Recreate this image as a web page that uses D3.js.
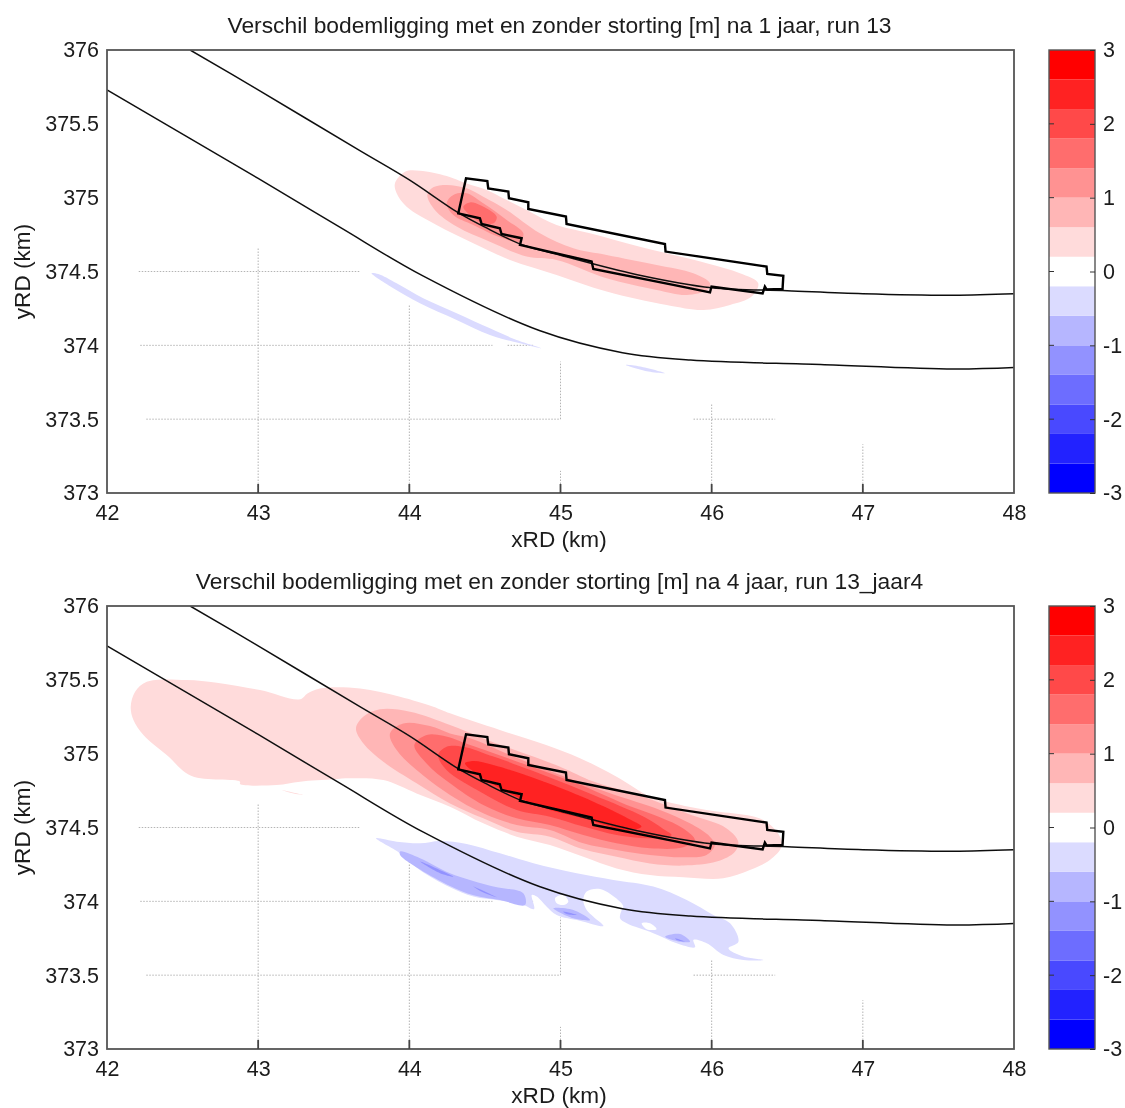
<!DOCTYPE html>
<html><head><meta charset="utf-8">
<script src="https://cdn.jsdelivr.net/npm/d3@7/dist/d3.min.js"></script>
<style>html,body{margin:0;padding:0;background:#fff}svg{display:block}text{font-family:"Liberation Sans",Arial,sans-serif;fill:#1a1a1a}</style>
</head><body><svg id="c" width="1125" height="1108"></svg>
<script>
const titles = ["Verschil bodemligging met en zonder storting [m] na 1 jaar, run 13",
                "Verschil bodemligging met en zonder storting [m] na 4 jaar, run 13_jaar4"];
const xTicks = [42,43,44,45,46,47,48];
const yTicks = [373,373.5,374,374.5,375,375.5,376];
const yTickLabels = ["373","373.5","374","374.5","375","375.5","376"];
const barTicks = [-3,-2,-1,0,1,2,3];
const bandColors = ["#0000ff","#2424ff","#4949ff","#6d6dff","#9292ff","#b6b6ff","#dbdbff","#ffffff","#ffdbdb","#ffb6b6","#ff9292","#ff6d6d","#ff4949","#ff2424","#ff0000"];

const coastUpper = [[42.55,376],[43,375.73],[43.67,375.32],[44,375.12],[44.32,374.9],[44.5,374.8],[44.75,374.68],[45,374.61],[45.5,374.48],[46,374.39],[46.5,374.37],[47,374.35],[47.6,374.34],[48,374.35]];
const coastLower = [[42,375.73],[43,375.13],[43.54,374.8],[44.09,374.47],[44.86,374.1],[45.41,373.95],[45.86,373.9],[46.72,373.87],[47.6,373.84],[48,373.85]];
const dumpSite = [[44.324,374.894],[44.375,375.131],[44.516,375.113],[44.522,375.063],[44.655,375.041],[44.659,374.996],[44.787,374.969],[44.787,374.923],[45.036,374.872],[45.04,374.822],[45.691,374.686],[45.695,374.635],[46.363,374.533],[46.368,374.483],[46.474,374.47],[46.469,374.382],[46.363,374.379],[46.352,374.398],[46.337,374.352],[45.999,374.398],[45.989,374.359],[45.746,374.409],[45.217,374.517],[45.206,374.567],[44.732,374.68],[44.743,374.725],[44.61,374.754],[44.599,374.793],[44.478,374.822],[44.467,374.86]];

// grid remnants: [x0,x1,y] horizontal, [x,y0,y1] vertical
const gridH = [[42.21,43.67,374.5],[42.22,44.55,374],[44.65,44.82,374],[42.26,45,373.5],[45.88,46.42,373.5]];
const gridV = [[43,373,374.66],[44,373,374.28],[45,373.5,373.89],[45,373,373.15],[46,373,373.6],[47,373,373.33]];
const tickMarks = [43,44,45,46,47];

const run1Contours = [
 {v:0.4,p:[[43.905,375.097],[43.971,375.176],[44.07,375.183],[44.247,375.147],[44.375,375.097],[44.511,375.052],[44.644,374.984],[44.798,374.905],[44.974,374.815],[45.195,374.759],[45.525,374.668],[45.967,374.556],[46.187,374.488],[46.308,374.42],[46.264,374.33],[46.121,374.273],[45.945,374.239],[45.702,374.273],[45.305,374.364],[44.974,374.477],[44.666,374.578],[44.423,374.691],[44.18,374.815],[43.982,374.939],[43.916,375.03]]},
 {v:0.8,p:[[44.119,375.018],[44.158,375.07],[44.247,375.086],[44.379,375.063],[44.489,375.007],[44.644,374.917],[44.864,374.759],[45.085,374.657],[45.305,374.612],[45.636,374.544],[45.878,374.488],[45.989,374.42],[45.967,374.375],[45.834,374.341],[45.636,374.375],[45.305,374.454],[44.974,374.578],[44.776,374.601],[44.533,374.701],[44.313,374.804],[44.169,374.917]]},
 {v:1.2,p:[[44.247,374.962],[44.291,375.018],[44.379,375.03],[44.489,374.962],[44.644,374.849],[44.754,374.759],[44.732,374.702],[44.599,374.732],[44.423,374.815],[44.291,374.883]]},
 {v:1.6,p:[[44.357,374.939],[44.401,374.968],[44.467,374.95],[44.578,374.871],[44.556,374.826],[44.467,374.837],[44.401,374.882]]},
 {v:-0.4,p:[[43.75,374.488],[43.795,374.483],[43.916,374.42],[44.092,374.319],[44.313,374.217],[44.533,374.115],[44.71,374.036],[44.875,373.98],[44.732,374.014],[44.533,374.07],[44.313,374.172],[44.07,374.285],[43.894,374.386]]},
 {v:-0.4,p:[[45.433,373.867],[45.526,373.856],[45.691,373.811],[45.581,373.822]]}
];
const run13Contours = [
 {v:0.4,p:[[42.157,375.318],[42.186,375.42],[42.263,375.487],[42.527,375.499],[42.726,375.481],[43.012,375.431],[43.277,375.368],[43.326,375.408],[43.409,375.442],[43.674,375.442],[43.938,375.386],[44.159,375.318],[44.269,375.273],[44.599,375.16],[44.9,375.06],[45.129,374.969],[45.371,374.844],[45.592,374.709],[45.702,374.675],[45.966,374.618],[46.341,374.551],[46.452,374.438],[46.462,374.37],[46.385,374.28],[46.253,374.212],[46.077,374.156],[45.812,374.163],[45.592,374.178],[45.371,374.223],[45.151,374.302],[44.93,374.381],[44.71,374.438],[44.489,374.528],[44.269,374.641],[44.048,374.731],[43.828,374.821],[43.607,374.833],[43.498,374.826],[43.277,374.81],[43.123,374.787],[42.88,374.794],[42.88,374.81],[42.56,374.848],[42.395,374.991],[42.241,375.126],[42.175,375.228]]},
 {v:0.4,p:[[43.156,374.754],[43.299,374.72],[43.211,374.736]]},
 {v:0.8,p:[[43.647,375.171],[43.695,375.25],[43.805,375.3],[44.004,375.284],[44.269,375.194],[44.489,375.103],[44.666,375.036],[44.997,374.912],[45.218,374.811],[45.548,374.709],[45.835,374.596],[46.099,374.494],[46.176,374.404],[46.154,374.336],[46.033,374.269],[45.812,374.242],[45.592,374.257],[45.371,374.302],[45.151,374.352],[44.93,374.438],[44.71,374.471],[44.489,374.562],[44.269,374.663],[44.048,374.799],[43.828,374.945],[43.695,375.07]]},
 {v:1.2,p:[[43.872,375.137],[43.96,375.205],[44.136,375.187],[44.269,375.137],[44.402,375.104],[44.666,374.991],[44.997,374.856],[45.328,374.732],[45.658,374.619],[45.856,374.528],[45.988,374.438],[46.021,374.381],[45.966,374.314],[45.812,374.298],[45.592,374.314],[45.371,374.348],[45.151,374.393],[44.93,374.483],[44.71,374.517],[44.489,374.596],[44.269,374.72],[44.048,374.889],[43.916,375.024]]},
 {v:1.6,p:[[44.033,375.058],[44.114,375.126],[44.224,375.121],[44.402,375.059],[44.777,374.924],[45.107,374.799],[45.438,374.653],[45.658,374.57],[45.812,374.494],[45.889,374.415],[45.812,374.366],[45.592,374.359],[45.371,374.393],[45.151,374.449],[44.93,374.517],[44.71,374.562],[44.489,374.652],[44.269,374.799],[44.114,374.934]]},
 {v:2.0,p:[[44.191,374.991],[44.246,375.047],[44.357,375.047],[44.556,374.98],[44.887,374.856],[45.218,374.72],[45.548,374.574],[45.68,374.49],[45.735,374.449],[45.592,374.427],[45.371,374.449],[45.151,374.506],[44.93,374.573],[44.71,374.618],[44.489,374.731],[44.246,374.889]]},
 {v:2.4,p:[[44.368,374.934],[44.423,374.95],[44.556,374.924],[44.887,374.811],[45.218,374.675],[45.45,374.56],[45.536,374.506],[45.459,374.479],[45.371,374.494],[45.151,374.562],[44.93,374.618],[44.71,374.708],[44.489,374.833]]},
 {v:-0.4,p:[[43.78,374.427],[43.917,374.404],[44.071,374.393],[44.203,374.409],[44.38,374.389],[44.6,374.325],[44.821,374.258],[45.107,374.19],[45.35,374.145],[45.614,374.1],[45.835,374.009],[46.011,373.908],[46.122,373.851],[46.177,373.727],[46.111,373.682],[46.21,373.626],[46.342,373.603],[46.21,373.603],[46.078,373.637],[45.967,373.716],[45.879,373.738],[45.89,373.689],[45.769,373.716],[45.614,373.784],[45.438,373.851],[45.394,373.885],[45.405,373.942],[45.416,373.964],[45.394,373.998],[45.262,374.084],[45.173,374.066],[45.151,374.009],[45.173,373.942],[45.218,373.896],[45.284,373.833],[45.129,373.869],[44.975,373.908],[44.909,373.964],[44.843,374.032],[44.81,374.043],[44.825,373.948],[44.754,373.975],[44.6,374.005],[44.424,374.032],[44.269,374.095],[44.071,374.21],[43.939,374.325]]},
 {v:-0.8,p:[[43.939,374.337],[44.071,374.292],[44.269,374.19],[44.556,374.1],[44.754,374.054],[44.765,373.975],[44.6,374.009],[44.424,374.041],[44.269,374.104],[44.071,374.215],[43.939,374.314]]},
 {v:-0.8,p:[[44.953,373.953],[45.085,373.942],[45.196,373.874],[45.085,373.885]]},
 {v:-0.8,p:[[45.692,373.761],[45.791,373.779],[45.857,373.727],[45.791,373.727]]},
 {v:-1.2,p:[[44.071,374.269],[44.291,374.167],[44.203,374.19]]},
 {v:-1.2,p:[[44.424,374.1],[44.578,374.027],[44.49,374.059]]},
 {v:-1.2,p:[[45.019,373.93],[45.107,373.908],[45.041,373.915]]},
 {v:-1.2,p:[[45.758,373.75],[45.824,373.727],[45.769,373.738]]},
 {v:0,p:[[44.964,374.021],[45.019,374.043],[45.052,373.998],[45.019,373.975],[44.975,373.987]]},
 {v:0,p:[[45.537,373.851],[45.592,373.851],[45.636,373.811],[45.57,373.811]]}
];

const svg = d3.select("#c");
const defs = svg.append("defs");
defs.append("filter").attr("id","soft").attr("filterUnits","userSpaceOnUse").attr("x",0).attr("y",0).attr("width",1125).attr("height",1108)
  .append("feGaussianBlur").attr("stdDeviation",0.7);
const root = svg.append("g").attr("filter","url(#soft)");
root.append("rect").attr("width",1125).attr("height",1108).attr("fill","#fff");
const color = d3.scaleQuantize().domain([-3,3]).range(bandColors);
const plotL=107, plotR=1014, barL=1049, barR=1095, H=443;
const x = d3.scaleLinear().domain([42,48]).range([plotL,plotR]);
const y = d3.scaleLinear().domain([373,376]).range([H,0]);
const fs = 21.5;

function panel(top, idx, title, contours){
  const g = root.append("g").attr("transform",`translate(0,${top})`);
  const id = "clip"+idx;
  g.append("clipPath").attr("id",id).append("rect").attr("x",plotL).attr("y",0).attr("width",plotR-plotL).attr("height",H);
  const body = g.append("g").attr("clip-path",`url(#${id})`);
  const smooth = d3.line().x(d=>x(d[0])).y(d=>y(d[1])).curve(d3.curveCatmullRomClosed.alpha(0.5));
  const open = d3.line().x(d=>x(d[0])).y(d=>y(d[1])).curve(d3.curveCatmullRom.alpha(0.5));
  const straight = d3.line().x(d=>x(d[0])).y(d=>y(d[1])).curve(d3.curveLinearClosed);
  const grid = body.append("g").attr("stroke","#b4b4b4").attr("stroke-width",1).attr("stroke-dasharray","1.5 1.5").attr("fill","none");
  gridH.forEach(d=>grid.append("line").attr("x1",x(d[0])).attr("x2",x(d[1])).attr("y1",y(d[2])).attr("y2",y(d[2])));
  gridV.forEach(d=>grid.append("line").attr("x1",x(d[0])).attr("x2",x(d[0])).attr("y1",y(d[1])).attr("y2",y(d[2])));
  body.selectAll("path.c").data(contours).join("path").attr("class","c")
    .attr("d",d=>smooth(d.p)).attr("fill",d=>color(d.v));
  [coastUpper,coastLower].forEach(l=>body.append("path").attr("d",open(l)).attr("fill","none").attr("stroke","#111").attr("stroke-width",1.5));
  body.append("path").attr("d",straight(dumpSite)).attr("fill","none").attr("stroke","#000").attr("stroke-width",2.4);
  // frame & axes
  g.append("rect").attr("x",plotL).attr("y",0).attr("width",plotR-plotL).attr("height",H).attr("fill","none").attr("stroke","#555").attr("stroke-width",1.8);
  g.append("g").selectAll("line").data(tickMarks).join("line").attr("x1",d=>x(d)).attr("x2",d=>x(d)).attr("y1",H).attr("y2",H-9).attr("stroke","#444").attr("stroke-width",1.8);
  const xa = g.append("g").attr("transform",`translate(0,${H})`).call(d3.axisBottom(x).tickValues(xTicks).tickFormat(d3.format("d")).tickSize(0).tickPadding(12));
  const ya = g.append("g").attr("transform",`translate(${plotL},0)`).call(d3.axisLeft(y).tickValues(yTicks).tickFormat((d,i)=>yTickLabels[i]).tickSize(0).tickPadding(8));
  [xa,ya].forEach(a=>{a.select(".domain").remove();a.selectAll("line").remove();a.selectAll("text").attr("font-size",fs).attr("fill","#1a1a1a").style("font-family",'"Liberation Sans"');});
  g.append("text").attr("x",559.5).attr("y",-17).attr("text-anchor","middle").attr("font-size",22.8).text(title);
  g.append("text").attr("x",559).attr("y",H+54).attr("text-anchor","middle").attr("font-size",22.6).text("xRD (km)");
  g.append("text").attr("transform",`translate(30,${H/2}) rotate(-90)`).attr("text-anchor","middle").attr("font-size",22.6).text("yRD (km)");
  // colourbar
  const by = d3.scaleLinear().domain([-3,3]).range([H,0]);
  const bands = bandColors.map((c,i)=>({c,a:-3+i*6/bandColors.length,b:-3+(i+1)*6/bandColors.length}));
  g.selectAll("rect.band").data(bands).join("rect").attr("class","band").attr("x",barL).attr("width",barR-barL)
    .attr("y",d=>by(d.b)).attr("height",d=>by(d.a)-by(d.b)).attr("fill",d=>d.c);
  g.append("rect").attr("x",barL).attr("y",0).attr("width",barR-barL).attr("height",H).attr("fill","none").attr("stroke","#555").attr("stroke-width",1.4);
  const ba = g.append("g").attr("transform",`translate(${barR},0)`).call(d3.axisRight(by).tickValues(barTicks).tickFormat(d3.format("d")).tickSizeInner(-5).tickSizeOuter(0).tickPadding(8));
  ba.select(".domain").remove();
  ba.selectAll("line").attr("stroke","#333");
  ba.selectAll("text").attr("font-size",fs).style("font-family",'"Liberation Sans"').attr("fill","#1a1a1a").text(d=>d<0?"-"+Math.abs(d):d);
  g.append("g").attr("stroke","#333").selectAll("line").data(barTicks.slice(1,-1)).join("line").attr("x1",barL).attr("x2",barL+5).attr("y1",d=>by(d)).attr("y2",d=>by(d));
}
panel(50,0,titles[0],run1Contours);
panel(606,1,titles[1],run13Contours);
</script></body></html>
